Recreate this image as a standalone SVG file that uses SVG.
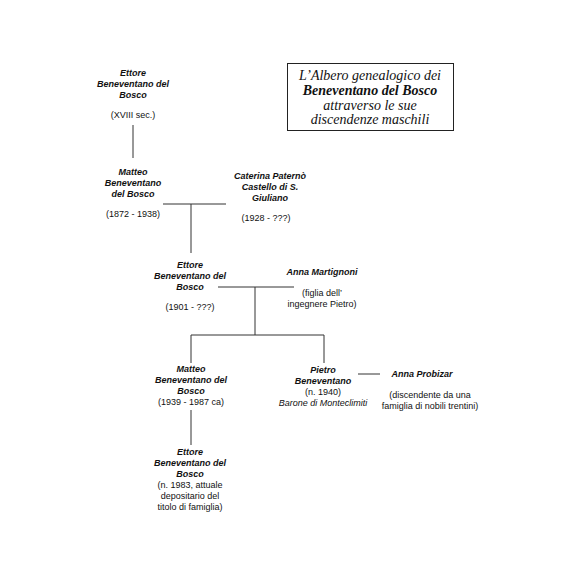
<svg xmlns="http://www.w3.org/2000/svg" width="569" height="569" viewBox="0 0 569 569">
<style>
text{font-family:"Liberation Sans",Arial,sans-serif;font-size:9px;fill:#111;text-anchor:middle}
.n{font-weight:bold;font-style:italic}
.i{font-style:italic}
.t{font-family:"Liberation Serif","DejaVu Serif",serif;font-style:italic;font-size:14px}
.tb{font-weight:bold}
.c line{stroke:#333;stroke-width:1}
</style>
<rect width="569" height="569" fill="#fff"/>
<g id="title">
<rect x="287.5" y="63.5" width="166" height="67" fill="none" stroke="#222" stroke-width="1"/>
<text class="t" x="370" y="80">L’Albero genealogico dei</text>
<text class="t tb" x="370" y="95">Beneventano del Bosco</text>
<text class="t" x="370" y="110">attraverso le sue</text>
<text class="t" x="370" y="124">discendenze maschili</text>
</g>
<g class="c" id="connectors">
<line x1="133" y1="125" x2="133" y2="158"/>
<line x1="163" y1="204" x2="226" y2="204"/>
<line x1="191" y1="204" x2="191" y2="253"/>
<line x1="218" y1="287" x2="294" y2="287"/>
<line x1="255" y1="287" x2="255" y2="335"/>
<line x1="191" y1="335" x2="324" y2="335"/>
<line x1="191" y1="335" x2="191" y2="363"/>
<line x1="324" y1="335" x2="324" y2="363"/>
<line x1="191" y1="410" x2="191" y2="445"/>
<line x1="358" y1="374" x2="380" y2="374"/>
</g>
<g id="ettore1">
<text class="n" x="133" y="76">Ettore</text>
<text class="n" x="133" y="87">Beneventano del</text>
<text class="n" x="133" y="98">Bosco</text>
<text x="133" y="118">(XVIII sec.)</text>
</g>
<g id="matteo1">
<text class="n" x="133" y="175">Matteo</text>
<text class="n" x="133" y="186">Beneventano</text>
<text class="n" x="133" y="197">del Bosco</text>
<text x="133" y="217">(1872 - 1938)</text>
</g>
<g id="caterina">
<text class="n" x="270" y="179">Caterina Paternò</text>
<text class="n" x="270" y="190">Castello di S.</text>
<text class="n" x="270" y="201">Giuliano</text>
<text x="266" y="221">(1928 - ???)</text>
</g>
<g id="ettore2">
<text class="n" x="190" y="268">Ettore</text>
<text class="n" x="190" y="279">Beneventano del</text>
<text class="n" x="190" y="290">Bosco</text>
<text x="190" y="310">(1901 - ???)</text>
</g>
<g id="anna1">
<text class="n" x="322" y="275">Anna Martignoni</text>
<text x="322" y="296">(figlia dell’</text>
<text x="322" y="307">ingegnere Pietro)</text>
</g>
<g id="matteo2">
<text class="n" x="191" y="372">Matteo</text>
<text class="n" x="191" y="383">Beneventano del</text>
<text class="n" x="191" y="394">Bosco</text>
<text x="191" y="405">(1939 - 1987 ca)</text>
</g>
<g id="pietro">
<text class="n" x="323" y="373">Pietro</text>
<text class="n" x="323" y="384">Beneventano</text>
<text x="323" y="395">(n. 1940)</text>
<text class="i" x="323" y="406">Barone di Monteclimiti</text>
</g>
<g id="anna2">
<text class="n" x="422" y="377">Anna Probizar</text>
<text x="430" y="398">(discendente da una</text>
<text x="430" y="409">famiglia di nobili trentini)</text>
</g>
<g id="ettore3">
<text class="n" x="190" y="455">Ettore</text>
<text class="n" x="190" y="466">Beneventano del</text>
<text class="n" x="190" y="477">Bosco</text>
<text x="190" y="488">(n. 1983, attuale</text>
<text x="190" y="499">depositario del</text>
<text x="190" y="510">titolo di famiglia)</text>
</g>
</svg>
